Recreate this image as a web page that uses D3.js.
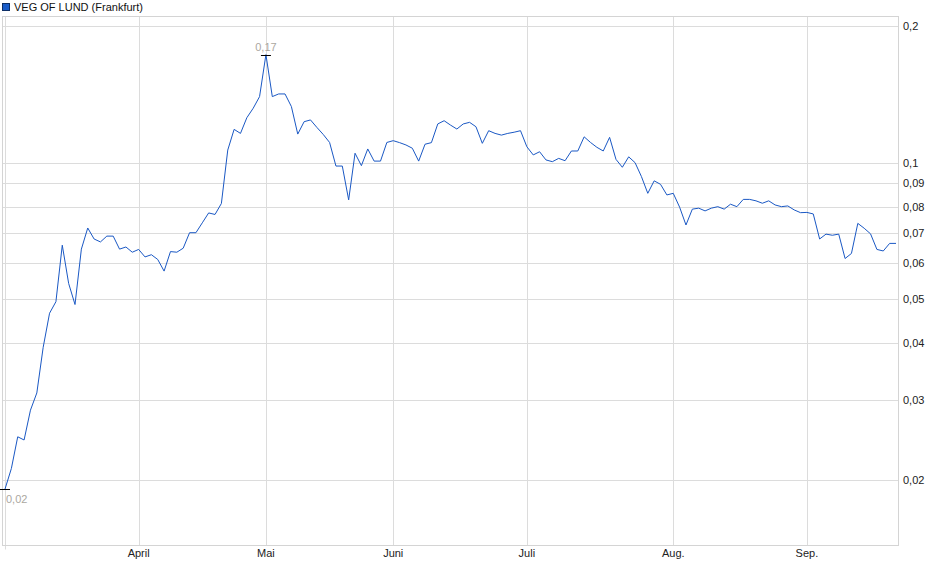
<!DOCTYPE html>
<html>
<head>
<meta charset="utf-8">
<script src="https://cdn.jsdelivr.net/npm/d3@7"></script>
<style>
  body { margin: 0; background: #fff; }
  text { font-family: "Liberation Sans", Arial, sans-serif; }
</style>
</head>
<body>
<div id="chart"></div>
<script>
// Daily closing prices (Frankfurt), one per trading day
const prices = [
  0.0191, 0.0212, 0.0249, 0.0245, 0.0285, 0.0311, 0.0392, 0.0466, 0.0494, 0.0658,
  0.0542, 0.0487, 0.0645, 0.0718, 0.0679, 0.0669, 0.0689, 0.0689, 0.0645, 0.0652,
  0.0635, 0.0644, 0.0620, 0.0627, 0.0612, 0.0577, 0.0637, 0.0635, 0.0648, 0.0701,
  0.0701, 0.0737, 0.0775, 0.0769, 0.0813, 0.1066, 0.1184, 0.1160, 0.1256, 0.1318,
  0.1398, 0.1730, 0.1398, 0.1417, 0.1417, 0.1329, 0.1156, 0.1231, 0.1242, 0.1196,
  0.1154, 0.1108, 0.0983, 0.0983, 0.0828, 0.1049, 0.0985, 0.1072, 0.1008, 0.1008,
  0.1108, 0.1118, 0.1107, 0.1094, 0.1076, 0.1008, 0.1098, 0.1107, 0.1217, 0.1237,
  0.1210, 0.1186, 0.1217, 0.1227, 0.1200, 0.1103, 0.1176, 0.1160, 0.1150, 0.1160,
  0.1167, 0.1176, 0.1084, 0.1040, 0.1057, 0.1014, 0.1005, 0.1022, 0.1010, 0.1061,
  0.1061, 0.1140, 0.1108, 0.1081, 0.1061, 0.1137, 0.1017, 0.0977, 0.1030, 0.1000,
  0.0932, 0.0856, 0.0912, 0.0896, 0.0849, 0.0856, 0.0798, 0.0729, 0.0790, 0.0794,
  0.0783, 0.0794, 0.0800, 0.0790, 0.0810, 0.0800, 0.0830, 0.0830, 0.0824, 0.0814,
  0.0824, 0.0807, 0.0800, 0.0803, 0.0787, 0.0776, 0.0777, 0.0771, 0.0679, 0.0696,
  0.0692, 0.0696, 0.0615, 0.0631, 0.0735, 0.0717, 0.0697, 0.0644, 0.0639, 0.0664,
  0.0664
];

// Month labels and the trading-day index where each month starts
const monthLabels = ["April", "Mai", "Juni", "Juli", "Aug.", "Sep."];
const monthIdx = [21, 41, 61, 82, 105, 126];

// Y axis ticks (log scale)
const yTicks = [0.02, 0.03, 0.04, 0.05, 0.06, 0.07, 0.08, 0.09, 0.1, 0.2];

const title = "VEG OF LUND (Frankfurt)";

const W = 940, H = 579;
const plot = { left: 2.5, right: 898.5, top: 16.5, bottom: 545.5 };

const de = d3.formatLocale({ decimal: ",", thousands: ".", grouping: [3], currency: ["", " €"] });
const fmt = de.format("~g");
const fmt2 = de.format(".2f");

const x = d3.scaleLinear()
    .domain([0, prices.length - 1])
    .range([5, 896]);

const y = d3.scaleLog()
    .domain([0.02, 0.2])
    .range([480, 26]);

const svg = d3.select("#chart")
  .append("svg")
    .attr("width", W)
    .attr("height", H);

// legend
svg.append("rect")
    .attr("x", 2.5).attr("y", 3.5)
    .attr("width", 7).attr("height", 7)
    .attr("fill", "#1a5cc8")
    .attr("stroke", "#0d2f66");
svg.append("text")
    .attr("x", 14).attr("y", 11)
    .attr("font-size", 11)
    .attr("fill", "#111")
    .text(title);

// horizontal grid + right axis labels
const yg = svg.append("g");
yg.selectAll("line")
  .data(yTicks)
  .join("line")
    .attr("x1", plot.left).attr("x2", plot.right)
    .attr("y1", d => Math.round(y(d)) + 0.5)
    .attr("y2", d => Math.round(y(d)) + 0.5)
    .attr("stroke", "#dcdcdc");
yg.selectAll("text")
  .data(yTicks)
  .join("text")
    .attr("x", 903)
    .attr("y", d => y(d) + 4)
    .attr("font-size", 11)
    .attr("fill", "#222")
    .text(d => fmt(d));

// vertical grid + month labels
const xg = svg.append("g");
xg.selectAll("line")
  .data(monthIdx)
  .join("line")
    .attr("x1", d => Math.round(x(d)) + 0.5)
    .attr("x2", d => Math.round(x(d)) + 0.5)
    .attr("y1", plot.top).attr("y2", plot.bottom)
    .attr("stroke", "#dcdcdc");
xg.selectAll("text")
  .data(monthIdx)
  .join("text")
    .attr("x", d => x(d))
    .attr("y", 557)
    .attr("text-anchor", "middle")
    .attr("font-size", 11)
    .attr("fill", "#222")
    .text((d, i) => monthLabels[i]);

// line at the first trading day
svg.append("line")
    .attr("x1", Math.round(x(0)) + 0.5).attr("x2", Math.round(x(0)) + 0.5)
    .attr("y1", plot.top).attr("y2", plot.bottom + 4)
    .attr("stroke", "#dcdcdc");

// frame
svg.append("rect")
    .attr("x", plot.left).attr("y", plot.top)
    .attr("width", plot.right - plot.left)
    .attr("height", plot.bottom - plot.top)
    .attr("fill", "none")
    .attr("stroke", "#d4d4d4");

// price line
const line = d3.line()
    .x((d, i) => x(i))
    .y(d => y(d));

svg.append("path")
    .datum(prices)
    .attr("fill", "none")
    .attr("stroke", "#1a58c4")
    .attr("stroke-width", 1)
    .attr("d", line);

// high / low markers
const hiI = d3.maxIndex(prices), loI = d3.minIndex(prices);
[hiI, loI].forEach(i => {
  svg.append("line")
      .attr("x1", x(i) - 5).attr("x2", x(i) + 5)
      .attr("y1", Math.round(y(prices[i])) + 0.5)
      .attr("y2", Math.round(y(prices[i])) + 0.5)
      .attr("stroke", "#000");
});
svg.append("text")
    .attr("x", x(hiI))
    .attr("y", y(prices[hiI]) - 4)
    .attr("text-anchor", "middle")
    .attr("font-size", 11)
    .attr("fill", "#aba79f")
    .text(fmt2(prices[hiI]));
svg.append("text")
    .attr("x", x(loI) + 1)
    .attr("y", y(prices[loI]) + 14)
    .attr("font-size", 11)
    .attr("fill", "#aba79f")
    .text(fmt2(prices[loI]));
</script>
</body>
</html>
